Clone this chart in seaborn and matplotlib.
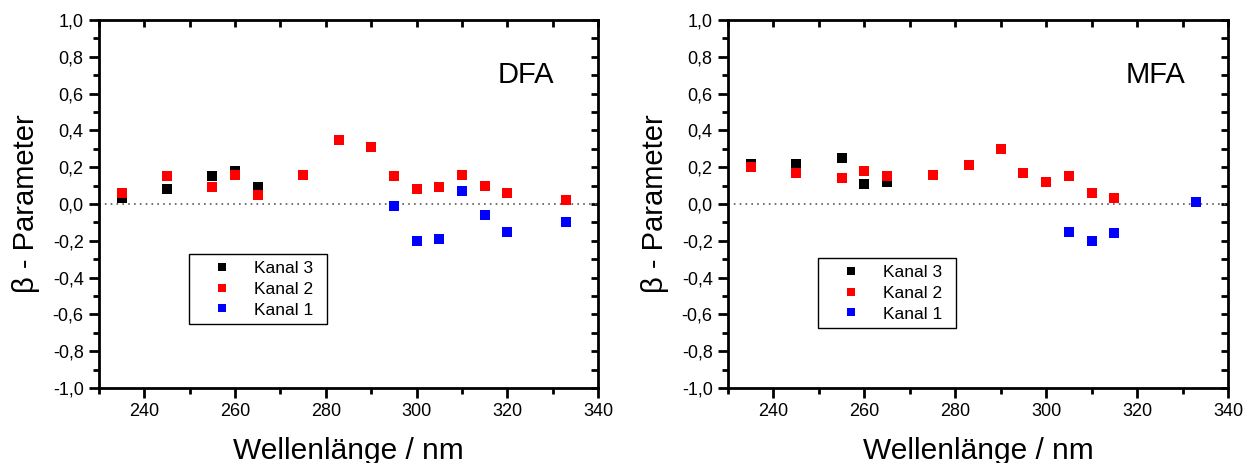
import pandas as pd
import matplotlib
matplotlib.use("Agg")
import matplotlib.pyplot as plt
import seaborn as sns
from matplotlib.ticker import MultipleLocator, FuncFormatter

sns.set_style("ticks")
plt.rcParams["font.family"] = ["Liberation Sans", "DejaVu Sans"]
plt.rcParams["text.color"] = "black"
plt.rcParams["axes.labelcolor"] = "black"

# DFA panel
dfa_k3_x = [235, 245, 255, 260, 265]
dfa_k3_y = [0.03, 0.08, 0.15, 0.18, 0.09]
dfa_k2_x = [235, 245, 255, 260, 265, 275, 283, 290, 295, 300, 305, 310, 315, 320, 333]
dfa_k2_y = [0.06, 0.15, 0.09, 0.16, 0.05, 0.16, 0.35, 0.31, 0.15, 0.08, 0.09, 0.16, 0.10, 0.06, 0.02]
dfa_k1_x = [295, 300, 305, 310, 315, 320, 333]
dfa_k1_y = [-0.01, -0.20, -0.19, 0.07, -0.06, -0.15, -0.10]

# MFA panel
mfa_k3_x = [235, 245, 255, 260, 265]
mfa_k3_y = [0.22, 0.22, 0.25, 0.11, 0.12]
mfa_k2_x = [235, 245, 255, 260, 265, 275, 283, 290, 295, 300, 305, 310, 315]
mfa_k2_y = [0.20, 0.17, 0.14, 0.18, 0.15, 0.16, 0.21, 0.30, 0.17, 0.12, 0.15, 0.06, 0.03]
mfa_k1_x = [305, 310, 315, 333]
mfa_k1_y = [-0.15, -0.20, -0.16, 0.01]

channels = ["Kanal 3", "Kanal 2", "Kanal 1"]
colors = {"Kanal 3": "black", "Kanal 2": "red", "Kanal 1": "blue"}


def make_df(series):
    rows = []
    for name, xs, ys in series:
        for x, y in zip(xs, ys):
            rows.append({"wl": x, "beta": y, "kanal": name})
    return pd.DataFrame(rows)


dfa = make_df([("Kanal 3", dfa_k3_x, dfa_k3_y),
               ("Kanal 2", dfa_k2_x, dfa_k2_y),
               ("Kanal 1", dfa_k1_x, dfa_k1_y)])
mfa = make_df([("Kanal 3", mfa_k3_x, mfa_k3_y),
               ("Kanal 2", mfa_k2_x, mfa_k2_y),
               ("Kanal 1", mfa_k1_x, mfa_k1_y)])

comma = FuncFormatter(lambda v, p: f"{v:.1f}".replace(".", ",").replace("\u2212", "-"))

fig = plt.figure(figsize=(12.46, 4.63), dpi=100)
W, H = 1246, 463
ax1 = fig.add_axes([99 / W, 1 - 388 / H, 499 / W, 368 / H])
ax2 = fig.add_axes([728 / W, 1 - 388 / H, 500 / W, 368 / H])


def panel(ax, data, label, leg_box):
    ax.axhline(0, color="0.35", lw=1.2, ls=(0, (1, 2.5)), zorder=1)
    sns.scatterplot(data=data, x="wl", y="beta", hue="kanal", hue_order=channels,
                    palette=colors, marker="s", s=52, linewidth=0, ax=ax, zorder=3)
    ax.set_xlim(230, 340)
    ax.set_ylim(-1.0, 1.0)
    ax.xaxis.set_major_locator(MultipleLocator(20))
    ax.xaxis.set_minor_locator(MultipleLocator(10))
    ax.yaxis.set_major_locator(MultipleLocator(0.2))
    ax.yaxis.set_minor_locator(MultipleLocator(0.1))
    ax.yaxis.set_major_formatter(comma)
    for sp in ax.spines.values():
        sp.set_visible(True)
        sp.set_linewidth(2)
        sp.set_color("black")
    ax.tick_params(axis="both", which="major", direction="out", length=7, width=2,
                   labelsize=13, pad=4, colors="black")
    ax.tick_params(axis="both", which="minor", direction="out", length=4, width=2,
                   colors="black")
    # inward ticks on top and right
    ax.tick_params(which="both", top=True, right=True)
    for t in ax.xaxis.get_major_ticks() + ax.xaxis.get_minor_ticks():
        t.tick2line.set_marker(3)
        t.tick2line.set_markersize(5)
    for t in ax.yaxis.get_major_ticks() + ax.yaxis.get_minor_ticks():
        t.tick2line.set_marker(0)
        t.tick2line.set_markersize(5)
    ax.set_xlabel("Wellenlänge / nm", fontsize=21.5, labelpad=12)
    ax.set_ylabel("\u03b2 - Parameter", fontsize=21, labelpad=9)
    ax.text(0.855, 0.85, label, transform=ax.transAxes, fontsize=21,
            ha="center", va="center", color="black")
    leg = ax.legend(loc="upper left", bbox_to_anchor=leg_box, mode="expand",
                    borderaxespad=0, fontsize=12.5, frameon=True, fancybox=False,
                    edgecolor="black", handletextpad=0.35, borderpad=0.4,
                    labelspacing=0.32, markerscale=0.8, handlelength=3.0)
    leg.get_frame().set_linewidth(1.0)
    leg.get_frame().set_alpha(1)
    for txt in leg.get_texts():
        txt.set_color("black")


panel(ax1, dfa, "DFA", ((189 - 99) / 499, (388 - 325) / 368, 138 / 499, 71 / 368))
panel(ax2, mfa, "MFA", ((818 - 728) / 500, (388 - 328) / 368, 138 / 500, 70 / 368))

fig.savefig("out.png", dpi=100)
